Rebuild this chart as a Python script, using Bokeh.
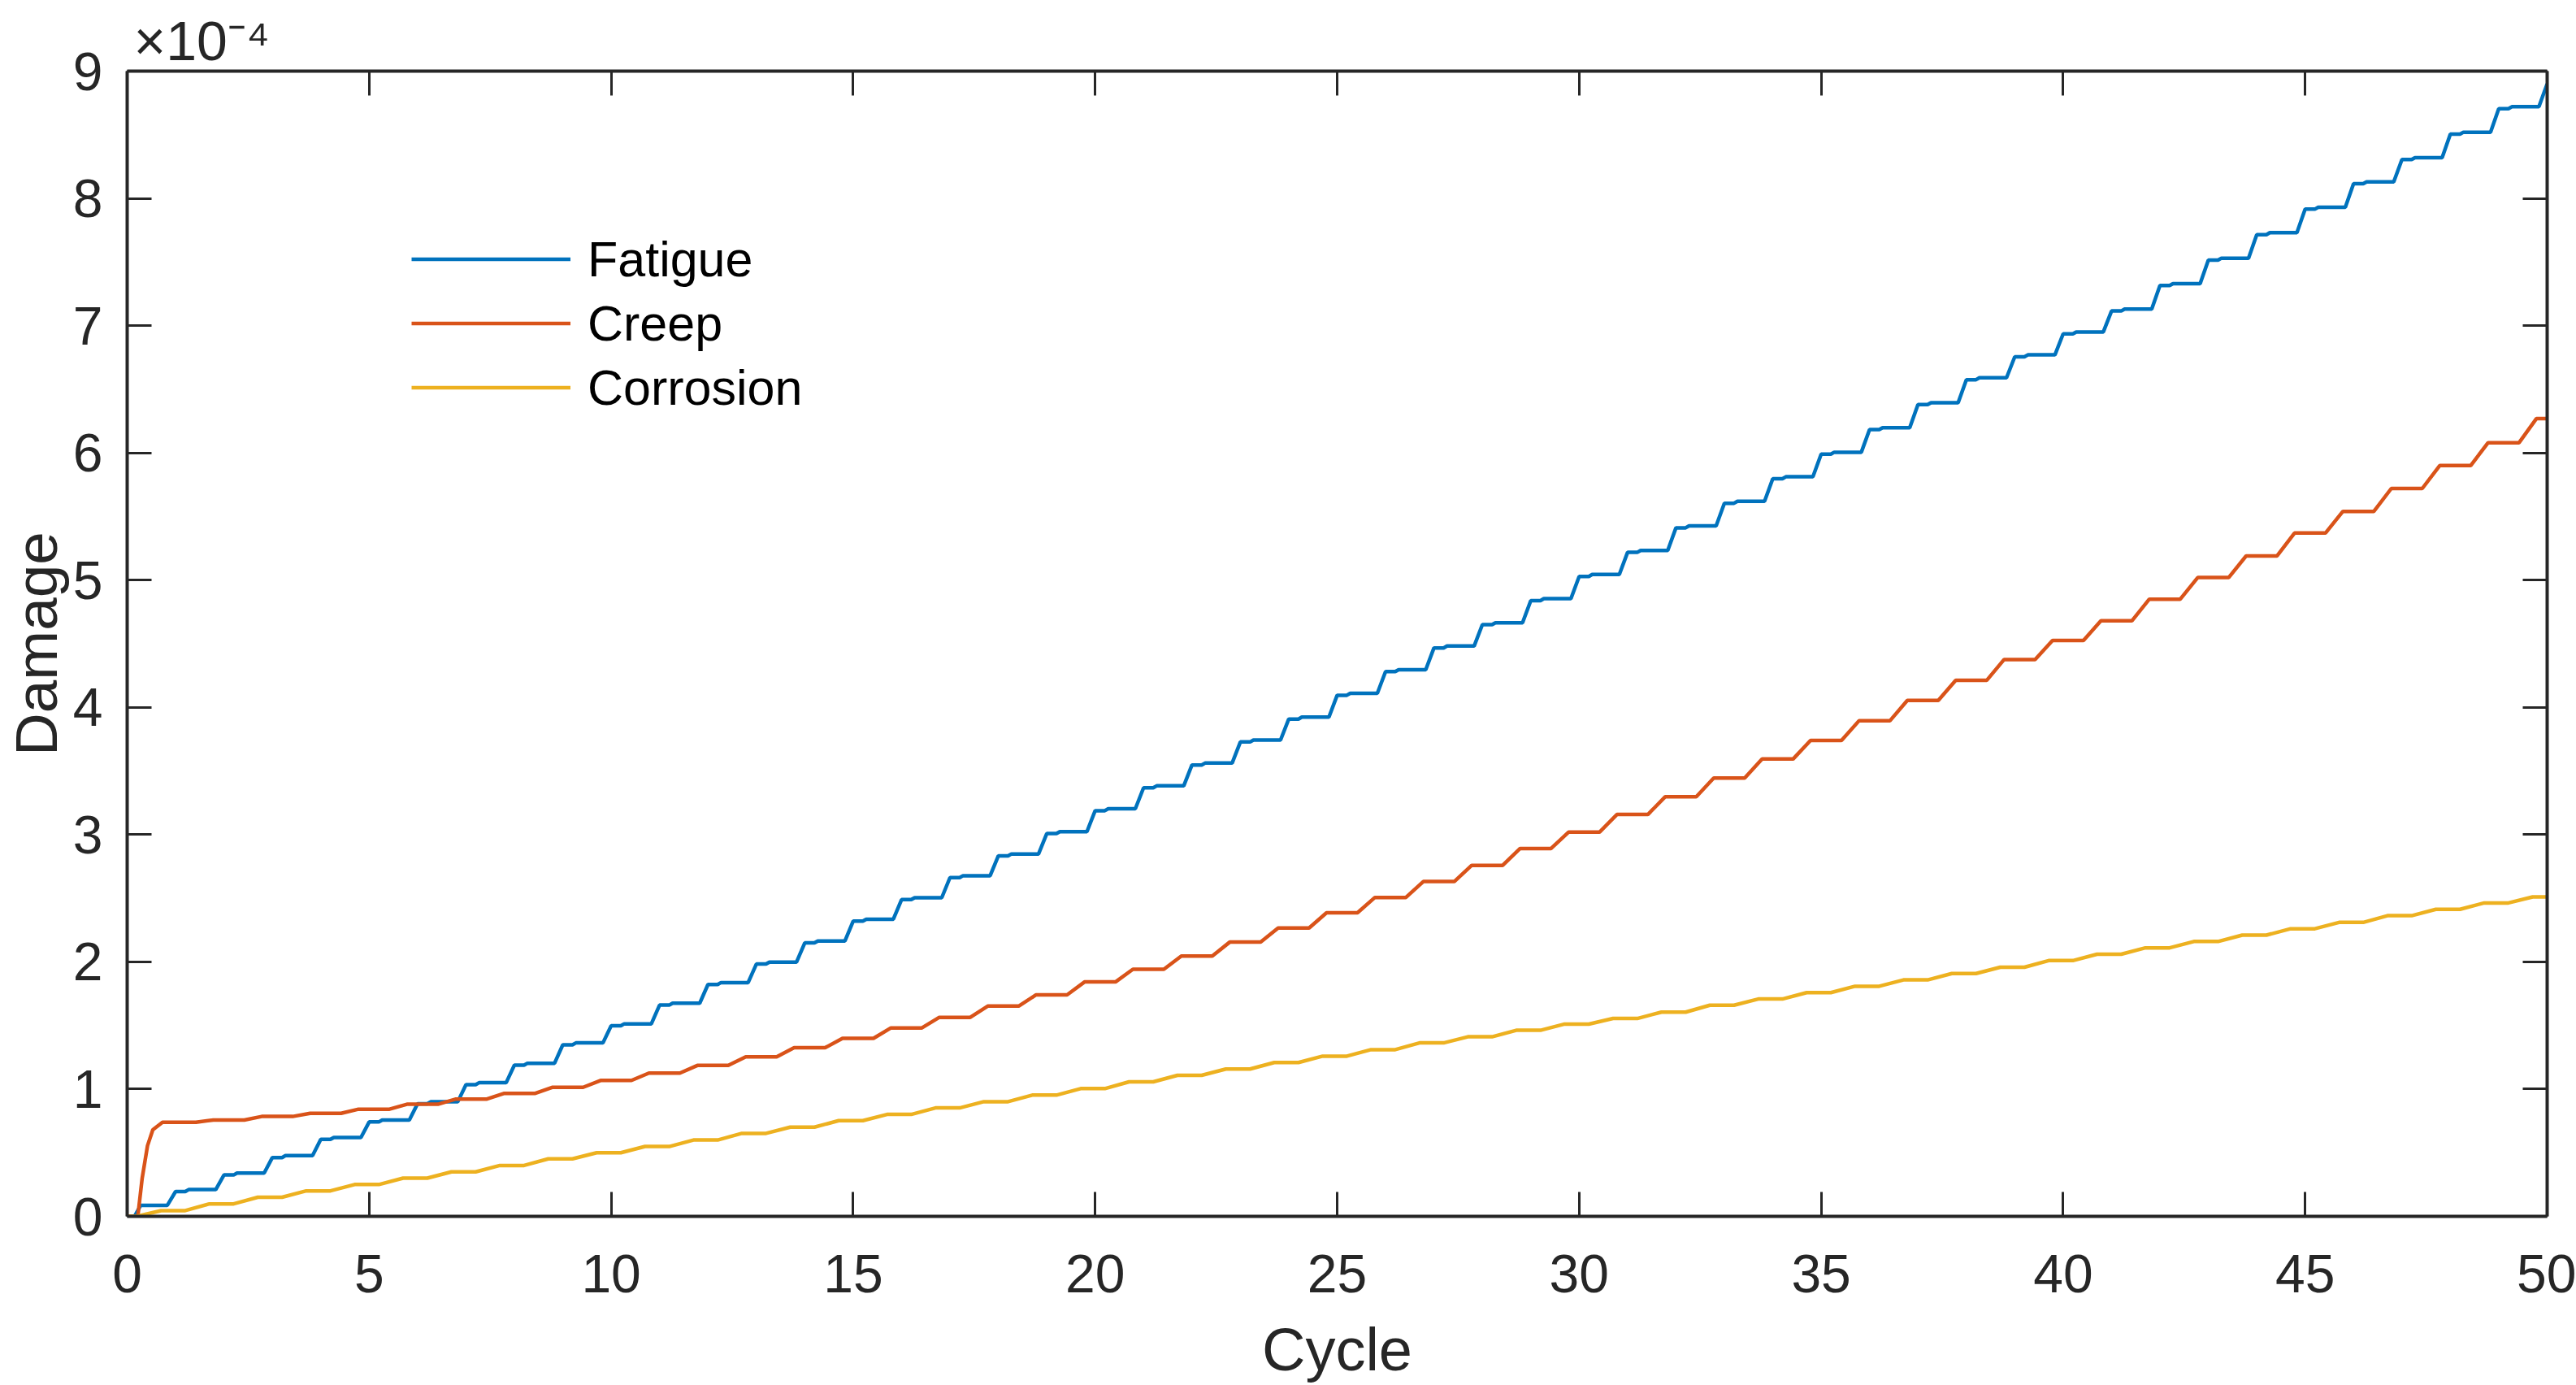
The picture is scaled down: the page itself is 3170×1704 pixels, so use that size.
from bokeh.plotting import figure
from bokeh.models import (Range1d, LinearAxis, FixedTicker, Legend, LegendItem,
                          CustomJSTickFormatter)
from bokeh.embed import file_html
from bokeh.resources import INLINE

# ---------------- data (damage in units of 1e-4) ----------------
cycle_ticks = [0, 5, 10, 15, 20, 25, 30, 35, 40, 45, 50]
damage_ticks = [0, 1, 2, 3, 4, 5, 6, 7, 8, 9]

# plateau level of fatigue damage reached in cycle n (n = 0..49)
fatigue_levels = [0.087, 0.21, 0.34, 0.477, 0.62, 0.757, 0.90, 1.05, 1.203, 1.363,
                  1.513, 1.675, 1.837, 1.998, 2.164, 2.335, 2.504, 2.677, 2.848, 3.023,
                  3.203, 3.383, 3.562, 3.743, 3.923, 4.110, 4.296, 4.482, 4.665, 4.854,
                  5.044, 5.233, 5.426, 5.619, 5.812, 6.005, 6.198, 6.394, 6.590, 6.77,
                  6.95, 7.13, 7.33, 7.53, 7.73, 7.93, 8.13, 8.32, 8.52, 8.72]
fatigue_final = 8.90

# initial creep jump (read points) then plateau level per cycle k = 0..49
creep_onset_x = [0.0, 0.22, 0.31, 0.42, 0.53, 0.73]
creep_onset_y = [0.0, 0.0, 0.30, 0.555, 0.68, 0.74]
creep_levels = [0.74, 0.757, 0.785, 0.810, 0.842, 0.881, 0.921, 0.966, 1.014, 1.068,
                1.126, 1.186, 1.254, 1.325, 1.399, 1.481, 1.564, 1.652, 1.741, 1.842,
                1.942, 2.046, 2.155, 2.266, 2.386, 2.506, 2.631, 2.758, 2.891, 3.019,
                3.158, 3.298, 3.444, 3.594, 3.740, 3.894, 4.055, 4.212, 4.376, 4.525,
                4.68, 4.85, 5.02, 5.19, 5.37, 5.54, 5.72, 5.90, 6.08, 6.27]

corrosion_levels = [0.045, 0.098, 0.15, 0.20, 0.25, 0.30, 0.35, 0.40, 0.452, 0.50,
                    0.549, 0.600, 0.652, 0.701, 0.752, 0.801, 0.852, 0.901, 0.953, 1.004,
                    1.057, 1.108, 1.158, 1.209, 1.259, 1.310, 1.363, 1.411, 1.462, 1.511,
                    1.555, 1.605, 1.659, 1.708, 1.758, 1.808, 1.858, 1.908, 1.958, 2.01,
                    2.06, 2.11, 2.16, 2.21, 2.26, 2.31, 2.363, 2.413, 2.463, 2.51]

# ---------------- step geometry (positions within a cycle) ----------------
FAT_RISE = 0.17       # fatigue rise finishes at the integer cycle
FAT_BUMP = 0.015
CREEP_RISE = (0.42, 0.78)
CORR_RISE = (0.2, 0.7)

fx, fy = [0.0, 0.15], [0.0, 0.0]
for n, lv in enumerate(fatigue_levels):
    if n == 0:
        fx += [0.28]; fy += [lv]
    else:
        prev = fatigue_levels[n - 1]
        fx += [n - FAT_RISE, n, n + 0.2, n + 0.27]
        fy += [prev, lv - FAT_BUMP, lv - FAT_BUMP, lv]
fx += [50 - FAT_RISE, 50]; fy += [fatigue_levels[-1], fatigue_final]

cx, cy = list(creep_onset_x), list(creep_onset_y)
for k in range(1, len(creep_levels)):
    cx += [k + CREEP_RISE[0], k + CREEP_RISE[1]]
    cy += [creep_levels[k - 1], creep_levels[k]]
cx += [50]; cy += [creep_levels[-1]]

rx, ry = [0.0], [0.0]
prev = 0.0
for n, lv in enumerate(corrosion_levels):
    rx += [n + CORR_RISE[0], n + CORR_RISE[1]]
    ry += [prev, lv]
    prev = lv
rx += [50]; ry += [corrosion_levels[-1]]

# ---------------- figure ----------------
FONT = "Liberation Sans"
AX = "#262626"

p = figure(width=3170, height=1704, output_backend="svg", toolbar_location=None,
           x_range=Range1d(0, 50), y_range=Range1d(0, 9),
           min_border_left=155, min_border_right=36, min_border_top=87, min_border_bottom=207,
           background_fill_color="white", border_fill_color="white",
           title="\u00d710\u207b\u2074")
p.grid.visible = False
p.outline_line_color = None

p.title.align = "left"
p.title.offset = 8
p.title.standoff = 0
p.title.text_font = FONT
p.title.text_font_size = "68px"
p.title.text_font_style = "normal"
p.title.text_color = AX

def style_axis(ax, ticks, standoff):
    ax.ticker = FixedTicker(ticks=ticks)
    ax.major_tick_in = 30
    ax.major_tick_out = 0
    ax.minor_tick_line_color = None
    ax.axis_line_color = AX
    ax.axis_line_width = 4
    ax.major_tick_line_color = AX
    ax.major_tick_line_width = 3
    ax.major_label_text_font = FONT
    ax.major_label_text_font_size = "66px"
    ax.major_label_text_color = AX
    ax.major_label_standoff = standoff
    ax.axis_label_text_font = FONT
    ax.axis_label_text_font_style = "normal"
    ax.axis_label_text_color = AX

xa = p.xaxis[0]
style_axis(xa, cycle_ticks, 47)
xa.axis_label = "Cycle"
xa.axis_label_text_font_size = "74px"
xa.axis_label_standoff = 26

ya = p.yaxis[0]
style_axis(ya, damage_ticks, 30)
ya.axis_label = "Damage"
ya.axis_label_text_font_size = "73px"
ya.axis_label_standoff = 2

top = LinearAxis(formatter=CustomJSTickFormatter(code="return ''"))
style_axis(top, cycle_ticks, 0)
top.major_label_text_font_size = "1px"
p.add_layout(top, "above")

right = LinearAxis(formatter=CustomJSTickFormatter(code="return ''"))
style_axis(right, damage_ticks, 0)
right.major_label_text_font_size = "1px"
p.add_layout(right, "right")

r1 = p.line(fx, fy, line_color="#0072BD", line_width=4.5)
r2 = p.line(cx, cy, line_color="#D95319", line_width=4.5)
r3 = p.line(rx, ry, line_color="#EDB120", line_width=4.5)

legend = Legend(items=[LegendItem(label="Fatigue", renderers=[r1]),
                       LegendItem(label="Creep", renderers=[r2]),
                       LegendItem(label="Corrosion", renderers=[r3])],
                location=(350, 980), orientation="vertical",
                label_text_font=FONT, label_text_font_size="61px", label_text_color="black",
                glyph_width=196, glyph_height=79, label_height=79, label_standoff=21,
                spacing=0, padding=0, margin=0,
                border_line_alpha=0, background_fill_alpha=0)
p.add_layout(legend)

open("out.html", "w").write(file_html(p, INLINE))
